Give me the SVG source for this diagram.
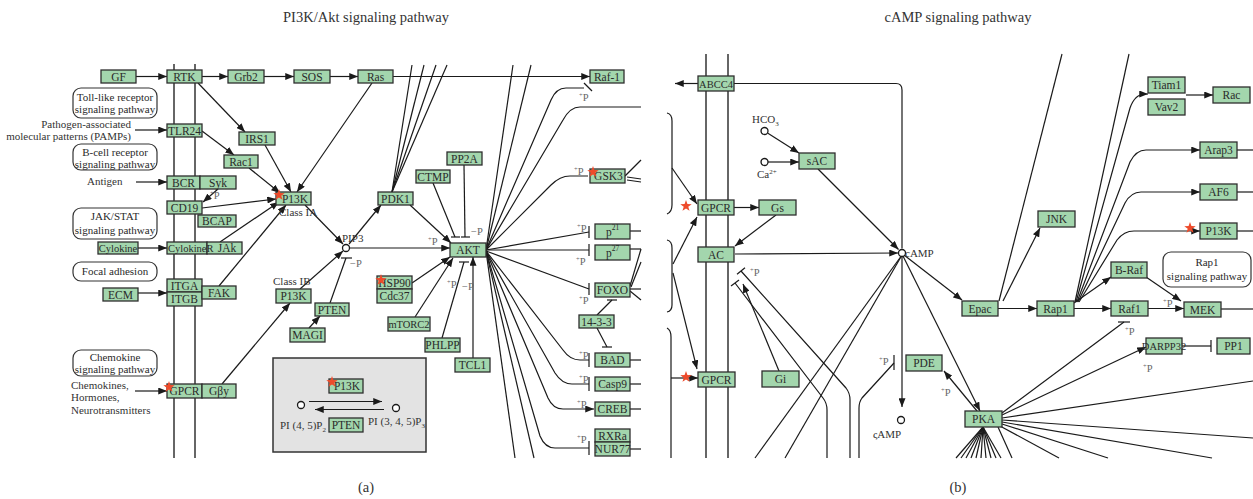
<svg xmlns="http://www.w3.org/2000/svg" width="1253" height="499" viewBox="0 0 1253 499">
<defs>
<marker id="ar" viewBox="0 0 10 8" refX="10" refY="4" markerWidth="9" markerHeight="7" markerUnits="userSpaceOnUse" orient="auto"><path d="M0,0 L10,4 L0,8 z" fill="#1a1a1a"/></marker>
<polygon id="star" points="0,-6 1.41,-1.94 5.71,-1.85 2.28,0.74 3.53,4.85 0,2.4 -3.53,4.85 -2.28,0.74 -5.71,-1.85 -1.41,-1.94" fill="#ee4b2b"/>
</defs>
<style>
.n rect{fill:#a3d6ad;stroke:#2e2e2e;stroke-width:1.3}
.n text,.t{font-family:"Liberation Serif",serif;font-size:11.5px;fill:#2a2a2a;text-anchor:middle}
.t{font-size:11px}
.n text.s{font-size:10.5px}
.c line,.c path{stroke:#1a1a1a;stroke-width:1.2;fill:none}
.c .a{marker-end:url(#ar)}
.rb rect{fill:#fff;stroke:#333;stroke-width:1.2}
.lbl{font-family:"Liberation Serif",serif;font-size:11px;fill:#333}
.p{font-family:"Liberation Serif",serif;font-size:10.5px;fill:#666}
.mem{stroke:#333;stroke-width:1.5}
.ttl{font-family:"Liberation Serif",serif;font-size:14.5px;fill:#333;text-anchor:middle}
.circ{fill:#fff;stroke:#1a1a1a;stroke-width:1.3}
</style>
<rect width="1253" height="499" fill="#fff"/>
<text class="ttl" x="366" y="22">PI3K/Akt signaling pathway</text>
<text class="ttl" x="958" y="22">cAMP signaling pathway</text>
<text class="ttl" x="366" y="492">(a)</text>
<text class="ttl" x="958" y="492">(b)</text>

<g id="membranes">
<line class="mem" x1="174" y1="64" x2="174" y2="458"/>
<line class="mem" x1="195" y1="64" x2="195" y2="458"/>
<line class="mem" x1="706" y1="54" x2="706" y2="458"/>
<line class="mem" x1="728" y1="54" x2="728" y2="458"/>
</g>

<g id="inset-box"><rect x="273" y="358" width="153" height="94" fill="#e3e3e3" stroke="#333" stroke-width="1.5"/></g>

<g id="connectors" class="c">
<line class="a" x1="136" y1="76.5" x2="167" y2="76.5"/>
<line class="a" x1="202" y1="76.5" x2="228" y2="76.5"/>
<line class="a" x1="264" y1="76.5" x2="294" y2="76.5"/>
<line class="a" x1="330" y1="76.5" x2="358" y2="76.5"/>
<line class="a" x1="393" y1="76.5" x2="590" y2="76.5"/>
<line class="a" x1="135" y1="130" x2="167" y2="130"/>
<line class="a" x1="136" y1="182" x2="167" y2="182"/>
<line class="a" x1="138" y1="248" x2="167" y2="248"/>
<line class="a" x1="138" y1="293" x2="167" y2="293"/>
<line class="a" x1="135" y1="391" x2="167" y2="391"/>
<line class="a" x1="198" y1="83" x2="245" y2="132"/>
<line class="a" x1="202" y1="131" x2="234" y2="155"/>
<line class="a" x1="265" y1="145" x2="291" y2="192"/>
<line class="a" x1="249" y1="168" x2="280" y2="193"/>
<line class="a" x1="372" y1="83" x2="297" y2="192"/>
<line class="a" x1="218" y1="189" x2="203" y2="202"/>
<line class="a" x1="202" y1="208" x2="276" y2="199"/>
<line class="a" x1="220" y1="242" x2="279" y2="202"/>
<line class="a" x1="219" y1="286" x2="286" y2="205"/>
<line class="a" x1="222" y1="384" x2="290" y2="303"/>
<line class="a" x1="305" y1="205" x2="343" y2="244"/>
<line class="a" x1="300" y1="289" x2="343" y2="251"/>
<line class="a" x1="349" y1="244" x2="381" y2="205"/>
<line class="a" x1="350" y1="248" x2="450" y2="248"/>
<line x1="330" y1="303" x2="346" y2="258"/>
<line x1="341" y1="258" x2="352" y2="258"/>
<line class="a" x1="309" y1="328" x2="320" y2="316"/>
<line class="a" x1="410" y1="205" x2="451" y2="243"/>
<line x1="433" y1="183" x2="455" y2="237"/>
<line x1="451" y1="237" x2="460" y2="237"/>
<line x1="464" y1="165" x2="465" y2="237"/>
<line x1="461" y1="237" x2="470" y2="237"/>
<line class="a" x1="412" y1="283" x2="450" y2="257"/>
<line class="a" x1="415" y1="317" x2="453" y2="258"/>
<line x1="442" y1="338" x2="464" y2="262"/>
<line x1="459" y1="262" x2="469" y2="262"/>
<line class="a" x1="473" y1="358" x2="473" y2="257"/>
<line x1="392" y1="192" x2="412" y2="65"/>
<line x1="392" y1="192" x2="424" y2="65"/>
<line x1="392" y1="192" x2="436" y2="65"/>
<line x1="392" y1="192" x2="447" y2="65"/>
<line x1="486" y1="250" x2="513" y2="65"/>
<line x1="486" y1="250" x2="531" y2="65"/>
<path d="M486,250 L551,100 Q556,88 566,88 L584,88"/>
<line x1="584" y1="83" x2="592" y2="91"/>
<path d="M486,250 L563,120 Q570,107 580,107 L641,107"/>
<path d="M486,250 L551,185 Q560,176 570,176 L588,176"/>
<line x1="486" y1="250" x2="589" y2="232"/>
<line x1="589" y1="226" x2="589" y2="238"/>
<line x1="486" y1="250" x2="589" y2="250"/>
<line x1="589" y1="244" x2="589" y2="256"/>
<line x1="486" y1="251" x2="589" y2="289"/>
<line x1="589" y1="283" x2="589" y2="295"/>
<path d="M486,251 L563,350 Q570,360 580,360 L589,360"/>
<line x1="589" y1="353" x2="589" y2="367"/>
<path d="M486,251 L555,373 Q562,384 572,384 L589,384"/>
<line x1="589" y1="377" x2="589" y2="391"/>
<path class="a" d="M486,251 L548,398 Q553,409 563,409 L594,409"/>
<path d="M486,251 L540,436 Q545,448 555,448 L589,448"/>
<line x1="589" y1="441" x2="589" y2="455"/>
<line x1="486" y1="251" x2="515" y2="458"/>
<line x1="486" y1="251" x2="534" y2="458"/>
<line x1="597" y1="315" x2="612" y2="300"/>
<line x1="607" y1="300" x2="617" y2="300"/>
<line x1="597" y1="328" x2="607" y2="347"/>
<line x1="602" y1="347" x2="612" y2="347"/>
<line x1="625" y1="176" x2="641" y2="160"/>
<line x1="627" y1="177" x2="641" y2="179"/>
<line x1="627" y1="180" x2="641" y2="182"/>
<line x1="630" y1="231" x2="641" y2="231"/>
<line x1="630" y1="249" x2="641" y2="249"/>
<line x1="641" y1="249" x2="630" y2="286"/>
<line x1="641" y1="262" x2="631" y2="287"/>
<line x1="630" y1="289" x2="641" y2="289"/>
<line x1="630" y1="291" x2="641" y2="300"/>
<line x1="630" y1="360" x2="641" y2="360"/>
<line x1="630" y1="384" x2="641" y2="384"/>
<line x1="630" y1="409" x2="641" y2="409"/>
<line x1="630" y1="449" x2="641" y2="449"/>
<line class="a" x1="309" y1="401.5" x2="382" y2="401.5"/>
<line class="a" x1="384" y1="409.5" x2="315" y2="409.5"/>
<line class="a" x1="698" y1="83.5" x2="675" y2="83.5"/>
<path d="M734,83.5 L896,83.5 Q902,83.5 902,90 L902,248.5"/>
<line class="a" x1="767.5" y1="133" x2="799" y2="153"/>
<line class="a" x1="768" y1="162" x2="799" y2="162"/>
<line class="a" x1="818" y1="169" x2="898.5" y2="249.5"/>
<line class="a" x1="734" y1="207.5" x2="759" y2="207.5"/>
<line class="a" x1="776" y1="215" x2="735" y2="246"/>
<line class="a" x1="735" y1="254" x2="898" y2="253"/>
<line class="a" x1="904" y1="255" x2="962" y2="300"/>
<line class="a" x1="903" y1="256" x2="980" y2="411"/>
<line class="a" x1="902" y1="256.5" x2="902" y2="407"/>
<line x1="902" y1="255" x2="755" y2="458"/>
<line x1="902" y1="255" x2="785" y2="458"/>
<path d="M741,271 L846,388 Q850,393 850,400 L850,458"/>
<line x1="737" y1="274.3" x2="745" y2="267.7"/>
<path d="M735,283 L823,398 Q827,403 827,410 L827,458"/>
<line x1="731" y1="286" x2="739" y2="280"/>
<line class="a" x1="779" y1="371" x2="743" y2="284"/>
<path d="M894,363 L862,398 Q859,402 859,408 L859,458"/>
<line x1="894" y1="355" x2="894" y2="370"/>
<line class="a" x1="977" y1="411" x2="944" y2="371"/>
<line class="a" x1="998" y1="308.5" x2="1037" y2="308.5"/>
<line class="a" x1="1074" y1="308.5" x2="1111" y2="308.5"/>
<line class="a" x1="1148" y1="308.5" x2="1184" y2="308.5"/>
<line class="a" x1="1074" y1="303" x2="1111" y2="277"/>
<line class="a" x1="1146" y1="277" x2="1181" y2="301"/>
<line x1="1221" y1="309" x2="1253" y2="309"/>
<line class="a" x1="1002" y1="415" x2="1146" y2="347"/>
<line x1="1182" y1="346" x2="1211" y2="346"/>
<line x1="1211" y1="340" x2="1211" y2="352"/>
<line x1="1002" y1="413" x2="1124" y2="322"/>
<line x1="1118" y1="322" x2="1130" y2="322"/>
<line x1="1002" y1="418" x2="1253" y2="381"/>
<line x1="1002" y1="420" x2="1253" y2="438"/>
<line x1="1002" y1="422" x2="1212" y2="458"/>
<line x1="1002" y1="424" x2="1108" y2="458"/>
<line x1="1000" y1="426" x2="1059" y2="458"/>
<line x1="998" y1="427" x2="1012" y2="458"/>
<line x1="983" y1="427" x2="956" y2="458"/>
<line x1="983" y1="427" x2="961" y2="458"/>
<line x1="983" y1="427" x2="966" y2="458"/>
<line x1="983" y1="427" x2="971" y2="458"/>
<line x1="983" y1="427" x2="976" y2="458"/>
<line x1="983" y1="427" x2="981" y2="458"/>
<line x1="983" y1="427" x2="986" y2="458"/>
<line x1="983" y1="427" x2="991" y2="458"/>
<line x1="983" y1="427" x2="996" y2="458"/>
<line x1="983" y1="427" x2="1001" y2="458"/>
<line x1="999" y1="301" x2="1062" y2="54"/>
<line class="a" x1="1003" y1="301" x2="1040" y2="228"/>
<line x1="1075" y1="302" x2="1129" y2="54"/>
<path class="a" d="M1076,302 L1130,108 Q1135,94 1145,94 L1148,94"/>
<path class="a" d="M1077,302 L1130,162 Q1136,150 1146,150 L1200,150"/>
<path class="a" d="M1078,302 L1125,203 Q1131,192 1141,192 L1200,192"/>
<path class="a" d="M1079,302 L1117,240 Q1124,231 1134,231 L1200,231"/>
<line class="a" x1="1186" y1="95" x2="1213" y2="95"/>
<line x1="1237" y1="150" x2="1253" y2="150"/>
<line x1="1237" y1="192" x2="1253" y2="192"/>
<line x1="1237" y1="231" x2="1253" y2="231"/>
<path d="M667,113 Q672,114 672,121 L672,205 Q672,212 667,214"/>
<line class="a" x1="672" y1="168" x2="697" y2="204"/>
<path d="M667,240 Q672,241 672,248 L672,305 Q672,311 667,312"/>
<line class="a" x1="673" y1="264" x2="697" y2="217"/>
<line class="a" x1="673" y1="273" x2="697" y2="369"/>
<path d="M667,328 Q671,330 671,337 L671,458"/>
<line class="a" x1="671" y1="378" x2="698" y2="378"/>
</g>

<g id="circles">
<circle class="circ" cx="346" cy="248" r="3.5"/>
<circle class="circ" cx="301" cy="405" r="3.5"/>
<circle class="circ" cx="396" cy="408" r="3.5"/>
<circle class="circ" cx="764.5" cy="131" r="3.5"/>
<circle class="circ" cx="764.5" cy="162" r="3.5"/>
<circle class="circ" cx="902" cy="253" r="3.5"/>
<circle class="circ" cx="901" cy="420" r="3.5"/>
</g>

<g id="pathway-boxes">
<g id="toll" class="rb"><rect x="73" y="88" width="84" height="30" rx="8"/><text class="t" x="115" y="100.5">Toll-like receptor</text><text class="t" x="115" y="113">signaling pathway</text></g>
<g id="bcell" class="rb"><rect x="73" y="144" width="84" height="26" rx="8"/><text class="t" x="115" y="155.5">B-cell receptor</text><text class="t" x="115" y="167.5">signaling pathway</text></g>
<g id="jakstat" class="rb"><rect x="73" y="208" width="84" height="31" rx="8"/><text class="t" x="115" y="220">JAK/STAT</text><text class="t" x="115" y="234">signaling pathway</text></g>
<g id="focal" class="rb"><rect x="73" y="262" width="84" height="19" rx="8"/><text class="t" x="115" y="274.5">Focal adhesion</text></g>
<g id="chemokine" class="rb"><rect x="73" y="350" width="84" height="26" rx="8"/><text class="t" x="115" y="360.5">Chemokine</text><text class="t" x="115" y="372.5">signaling pathway</text></g>
<g id="rap1path" class="rb"><rect x="1163" y="252" width="88" height="35" rx="8"/><text class="t" x="1207" y="266">Rap1</text><text class="t" x="1207" y="280">signaling pathway</text></g>
</g>

<g id="labels">
<text class="lbl" x="131" y="128" text-anchor="end">Pathogen-associated</text>
<text class="lbl" x="131" y="140" text-anchor="end">molecular patterns (PAMPs)</text>
<text class="lbl" x="87" y="185">Antigen</text>
<text class="lbl" x="71" y="389">Chemokines,</text>
<text class="lbl" x="71" y="401">Hormones,</text>
<text class="lbl" x="71" y="414">Neurotransmitters</text>
<text class="lbl" x="279" y="216">Class IA</text>
<text class="lbl" x="273" y="285">Class IB</text>
<text class="lbl" x="342" y="242">PIP3</text>
<text class="lbl" x="280" y="429">PI (4, 5)P<tspan font-size="7" dy="3">2</tspan></text>
<text class="lbl" x="368" y="425">PI (3, 4, 5)P<tspan font-size="7" dy="3">3</tspan></text>
<text class="lbl" x="752" y="123">HCO<tspan font-size="7" dy="3">3</tspan></text>
<text class="lbl" x="757" y="178">Ca<tspan font-size="7" dy="-4">2+</tspan></text>
<text class="lbl" x="905" y="257">cAMP</text>
<text class="lbl" x="873" y="438">ςAMP</text>
<text class="p" x="210" y="199"><tspan font-size="6.5" dy="-4">+</tspan><tspan dy="4">P</tspan></text>
<text class="p" x="579" y="101"><tspan font-size="6.5" dy="-4">+</tspan><tspan dy="4">P</tspan></text>
<text class="p" x="574" y="175"><tspan font-size="6.5" dy="-4">+</tspan><tspan dy="4">P</tspan></text>
<text class="p" x="428" y="245"><tspan font-size="6.5" dy="-4">+</tspan><tspan dy="4">P</tspan></text>
<text class="p" x="447" y="288"><tspan font-size="6.5" dy="-4">+</tspan><tspan dy="4">P</tspan></text>
<text class="p" x="462" y="290">−P</text>
<text class="p" x="471" y="235">−P</text>
<text class="p" x="350" y="267">−P</text>
<text class="p" x="577" y="232"><tspan font-size="6.5" dy="-4">+</tspan><tspan dy="4">P</tspan></text>
<text class="p" x="576" y="265"><tspan font-size="6.5" dy="-4">+</tspan><tspan dy="4">P</tspan></text>
<text class="p" x="579" y="304"><tspan font-size="6.5" dy="-4">+</tspan><tspan dy="4">P</tspan></text>
<text class="p" x="579" y="359"><tspan font-size="6.5" dy="-4">+</tspan><tspan dy="4">P</tspan></text>
<text class="p" x="579" y="383"><tspan font-size="6.5" dy="-4">+</tspan><tspan dy="4">P</tspan></text>
<text class="p" x="577" y="408"><tspan font-size="6.5" dy="-4">+</tspan><tspan dy="4">P</tspan></text>
<text class="p" x="577" y="443"><tspan font-size="6.5" dy="-4">+</tspan><tspan dy="4">P</tspan></text>
<text class="p" x="750" y="276"><tspan font-size="6.5" dy="-4">+</tspan><tspan dy="4">P</tspan></text>
<text class="p" x="879" y="365"><tspan font-size="6.5" dy="-4">+</tspan><tspan dy="4">P</tspan></text>
<text class="p" x="941" y="396"><tspan font-size="6.5" dy="-4">+</tspan><tspan dy="4">P</tspan></text>
<text class="p" x="1163" y="307"><tspan font-size="6.5" dy="-4">+</tspan><tspan dy="4">P</tspan></text>
<text class="p" x="1125" y="335"><tspan font-size="6.5" dy="-4">+</tspan><tspan dy="4">P</tspan></text>
<text class="p" x="1143" y="372"><tspan font-size="6.5" dy="-4">+</tspan><tspan dy="4">P</tspan></text>
</g>

<g id="nodes">
<g id="n-GF" class="n"><rect x="101" y="70" width="35" height="13"/><text x="118.5" y="80.5">GF</text></g>
<g id="n-RTK" class="n"><rect x="167" y="70" width="35" height="13"/><text x="184.5" y="80.5">RTK</text></g>
<g id="n-Grb2" class="n"><rect x="228" y="70" width="36" height="13"/><text x="246" y="80.5">Grb2</text></g>
<g id="n-SOS" class="n"><rect x="294" y="70" width="36" height="13"/><text x="312" y="80.5">SOS</text></g>
<g id="n-Ras" class="n"><rect x="358" y="70" width="35" height="13"/><text x="375.5" y="80.5">Ras</text></g>
<g id="n-Raf-1" class="n"><rect x="590" y="70" width="34" height="13"/><text x="607" y="80.5">Raf-1</text></g>
<g id="n-TLR24" class="n"><rect x="167" y="124" width="35" height="13"/><text x="184.5" y="134.5">TLR24</text></g>
<g id="n-IRS1" class="n"><rect x="239" y="132" width="36" height="13"/><text x="257" y="142.5">IRS1</text></g>
<g id="n-Rac1" class="n"><rect x="224" y="155" width="34" height="13"/><text x="241" y="165.5">Rac1</text></g>
<g id="n-BCR" class="n"><rect x="167" y="176" width="33" height="13"/><text x="183.5" y="186.5">BCR</text></g>
<g id="n-Syk" class="n"><rect x="200" y="176" width="36" height="13"/><text x="218" y="186.5">Syk</text></g>
<g id="n-P13K-IA" class="n"><rect x="276" y="192" width="35" height="13"/><text x="295" y="202.5">P13K</text></g>
<g id="n-PDK1" class="n"><rect x="378" y="192" width="35" height="13"/><text x="395.5" y="202.5">PDK1</text></g>
<g id="n-CTMP" class="n"><rect x="416" y="170" width="34" height="13"/><text x="433" y="180.5">CTMP</text></g>
<g id="n-PP2A" class="n"><rect x="447" y="152" width="35" height="13"/><text x="464.5" y="162.5">PP2A</text></g>
<g id="n-GSK3" class="n"><rect x="590" y="169" width="35" height="14"/><text x="608.5" y="180">GSK3</text></g>
<g id="n-CD19" class="n"><rect x="167" y="201" width="35" height="13"/><text x="184.5" y="211.5">CD19</text></g>
<g id="n-BCAP" class="n"><rect x="198" y="215" width="38" height="12"/><text x="217" y="225">BCAP</text></g>
<g id="n-Cylokine" class="n"><rect x="98" y="242" width="40" height="12"/><text class="s" x="118" y="252">Cylokine</text></g>
<g id="n-CylokineR" class="n"><rect x="167" y="242" width="40" height="12"/><rect x="207" y="242" width="35" height="12"/><text class="s" x="168" y="252" style="text-anchor:start">CylokineR</text><text x="227" y="252">JAk</text></g>
<g id="n-ITGA" class="n"><rect x="167" y="279" width="35" height="13"/><text x="184.5" y="289.5">ITGA</text></g>
<g id="n-ITGB" class="n"><rect x="167" y="292" width="35" height="14"/><text x="184.5" y="303">ITGB</text></g>
<g id="n-FAK" class="n"><rect x="202" y="286" width="34" height="13"/><text x="219" y="296.5">FAK</text></g>
<g id="n-ECM" class="n"><rect x="103" y="288" width="35" height="13"/><text x="120.5" y="298.5">ECM</text></g>
<g id="n-AKT" class="n"><rect x="450" y="243" width="36" height="14"/><text x="468" y="254">AKT</text></g>
<g id="n-p21" class="n"><rect x="595" y="224" width="35" height="15"/><text x="612.5" y="236">p<tspan font-size="7.5" dy="-6">21</tspan></text></g>
<g id="n-p27" class="n"><rect x="595" y="245" width="35" height="15"/><text x="612.5" y="257">p<tspan font-size="7.5" dy="-6">27</tspan></text></g>
<g id="n-FOXO" class="n"><rect x="595" y="283" width="35" height="14"/><text x="612.5" y="294">FOXO</text></g>
<g id="n-14-3-3" class="n"><rect x="579" y="315" width="35" height="13"/><text x="596.5" y="325.5">14-3-3</text></g>
<g id="n-HSP90" class="n"><rect x="377" y="276" width="35" height="13"/><text x="394.5" y="286.5">HSP90</text></g>
<g id="n-Cdc37" class="n"><rect x="377" y="289" width="35" height="14"/><text x="394.5" y="300">Cdc37</text></g>
<g id="n-P13K-IB" class="n"><rect x="276" y="289" width="35" height="14"/><text x="293.5" y="300">P13K</text></g>
<g id="n-PTEN" class="n"><rect x="315" y="303" width="34" height="13"/><text x="332" y="313.5">PTEN</text></g>
<g id="n-MAGI" class="n"><rect x="290" y="328" width="35" height="14"/><text x="307.5" y="339">MAGI</text></g>
<g id="n-mTORC2" class="n"><rect x="388" y="317" width="42" height="14"/><text class="s" x="409" y="328">mTORC2</text></g>
<g id="n-PHLPP" class="n"><rect x="425" y="338" width="35" height="14"/><text x="442.5" y="349">PHLPP</text></g>
<g id="n-TCL1" class="n"><rect x="455" y="358" width="35" height="14"/><text x="472.5" y="369">TCL1</text></g>
<g id="n-BAD" class="n"><rect x="595" y="353" width="35" height="14"/><text x="612.5" y="364">BAD</text></g>
<g id="n-Casp9" class="n"><rect x="595" y="377" width="35" height="14"/><text x="612.5" y="388">Casp9</text></g>
<g id="n-CREB" class="n"><rect x="595" y="402" width="35" height="14"/><text x="612.5" y="413">CREB</text></g>
<g id="n-RXRa" class="n"><rect x="595" y="429" width="35" height="13"/><text x="612.5" y="439.5">RXRa</text></g>
<g id="n-NUR77" class="n"><rect x="595" y="442" width="35" height="14"/><text x="612.5" y="453">NUR77</text></g>
<g id="n-GPCR-a" class="n"><rect x="167" y="384" width="35" height="14"/><text x="184.5" y="395">GPCR</text></g>
<g id="n-Gby" class="n"><rect x="202" y="384" width="34" height="14"/><text x="219" y="395">Gβy</text></g>
<g id="n-P13K-box" class="n"><rect x="329" y="379" width="34" height="14"/><text x="347" y="390">P13K</text></g>
<g id="n-PTEN-box" class="n"><rect x="329" y="418" width="34" height="14"/><text x="346" y="429">PTEN</text></g>

<g id="n-ABCC4" class="n"><rect x="698" y="76" width="36" height="15"/><text class="s" x="716" y="87.5">ABCC4</text></g>
<g id="n-sAC" class="n"><rect x="799" y="153" width="36" height="16"/><text x="817" y="165">sAC</text></g>
<g id="n-GPCR-b1" class="n"><rect x="698" y="200" width="36" height="15"/><text x="716" y="211.5">GPCR</text></g>
<g id="n-Gs" class="n"><rect x="759" y="200" width="37" height="15"/><text x="777.5" y="211.5">Gs</text></g>
<g id="n-AC" class="n"><rect x="698" y="247" width="36" height="15"/><text x="716" y="258.5">AC</text></g>
<g id="n-GPCR-b2" class="n"><rect x="698" y="372" width="37" height="15"/><text x="716.5" y="383.5">GPCR</text></g>
<g id="n-Gi" class="n"><rect x="762" y="371" width="37" height="16"/><text x="780.5" y="383">Gi</text></g>
<g id="n-PDE" class="n"><rect x="906" y="355" width="36" height="16"/><text x="924" y="367">PDE</text></g>
<g id="n-PKA" class="n"><rect x="965" y="411" width="37" height="16"/><text x="983.5" y="423">PKA</text></g>
<g id="n-Epac" class="n"><rect x="962" y="301" width="36" height="15"/><text x="980" y="312.5">Epac</text></g>
<g id="n-Rap1" class="n"><rect x="1037" y="301" width="37" height="15"/><text x="1055.5" y="312.5">Rap1</text></g>
<g id="n-Raf1" class="n"><rect x="1111" y="301" width="37" height="15"/><text x="1129.5" y="312.5">Raf1</text></g>
<g id="n-MEK" class="n"><rect x="1184" y="302" width="37" height="15"/><text x="1202.5" y="313.5">MEK</text></g>
<g id="n-B-Raf" class="n"><rect x="1111" y="262" width="36" height="16"/><text x="1129" y="274">B-Raf</text></g>
<g id="n-DARPP32" class="n"><rect x="1146" y="338" width="36" height="16"/><text class="s" x="1164" y="350">DARPP32</text></g>
<g id="n-PP1" class="n"><rect x="1217" y="338" width="33" height="16"/><text x="1233.5" y="350">PP1</text></g>
<g id="n-JNK" class="n"><rect x="1038" y="211" width="37" height="16"/><text x="1056.5" y="223">JNK</text></g>
<g id="n-Tiam1" class="n"><rect x="1148" y="77" width="37" height="16"/><text x="1166.5" y="89">Tiam1</text></g>
<g id="n-Vav2" class="n"><rect x="1148" y="99" width="37" height="16"/><text x="1166.5" y="111">Vav2</text></g>
<g id="n-Rac" class="n"><rect x="1213" y="87" width="37" height="16"/><text x="1231.5" y="99">Rac</text></g>
<g id="n-Arap3" class="n"><rect x="1200" y="142" width="37" height="16"/><text x="1218.5" y="154">Arap3</text></g>
<g id="n-AF6" class="n"><rect x="1200" y="184" width="37" height="16"/><text x="1218.5" y="196">AF6</text></g>
<g id="n-P13K-b" class="n"><rect x="1200" y="223" width="37" height="16"/><text x="1218.5" y="235">P13K</text></g>
</g>

<g id="stars">
<use href="#star" x="279" y="195"/>
<use href="#star" x="169" y="387"/>
<use href="#star" x="381" y="280"/>
<use href="#star" x="332" y="382"/>
<use href="#star" x="593" y="172"/>
<use href="#star" x="686" y="206"/>
<use href="#star" x="686" y="377"/>
<use href="#star" x="1190" y="228"/>
</g>
</svg>
